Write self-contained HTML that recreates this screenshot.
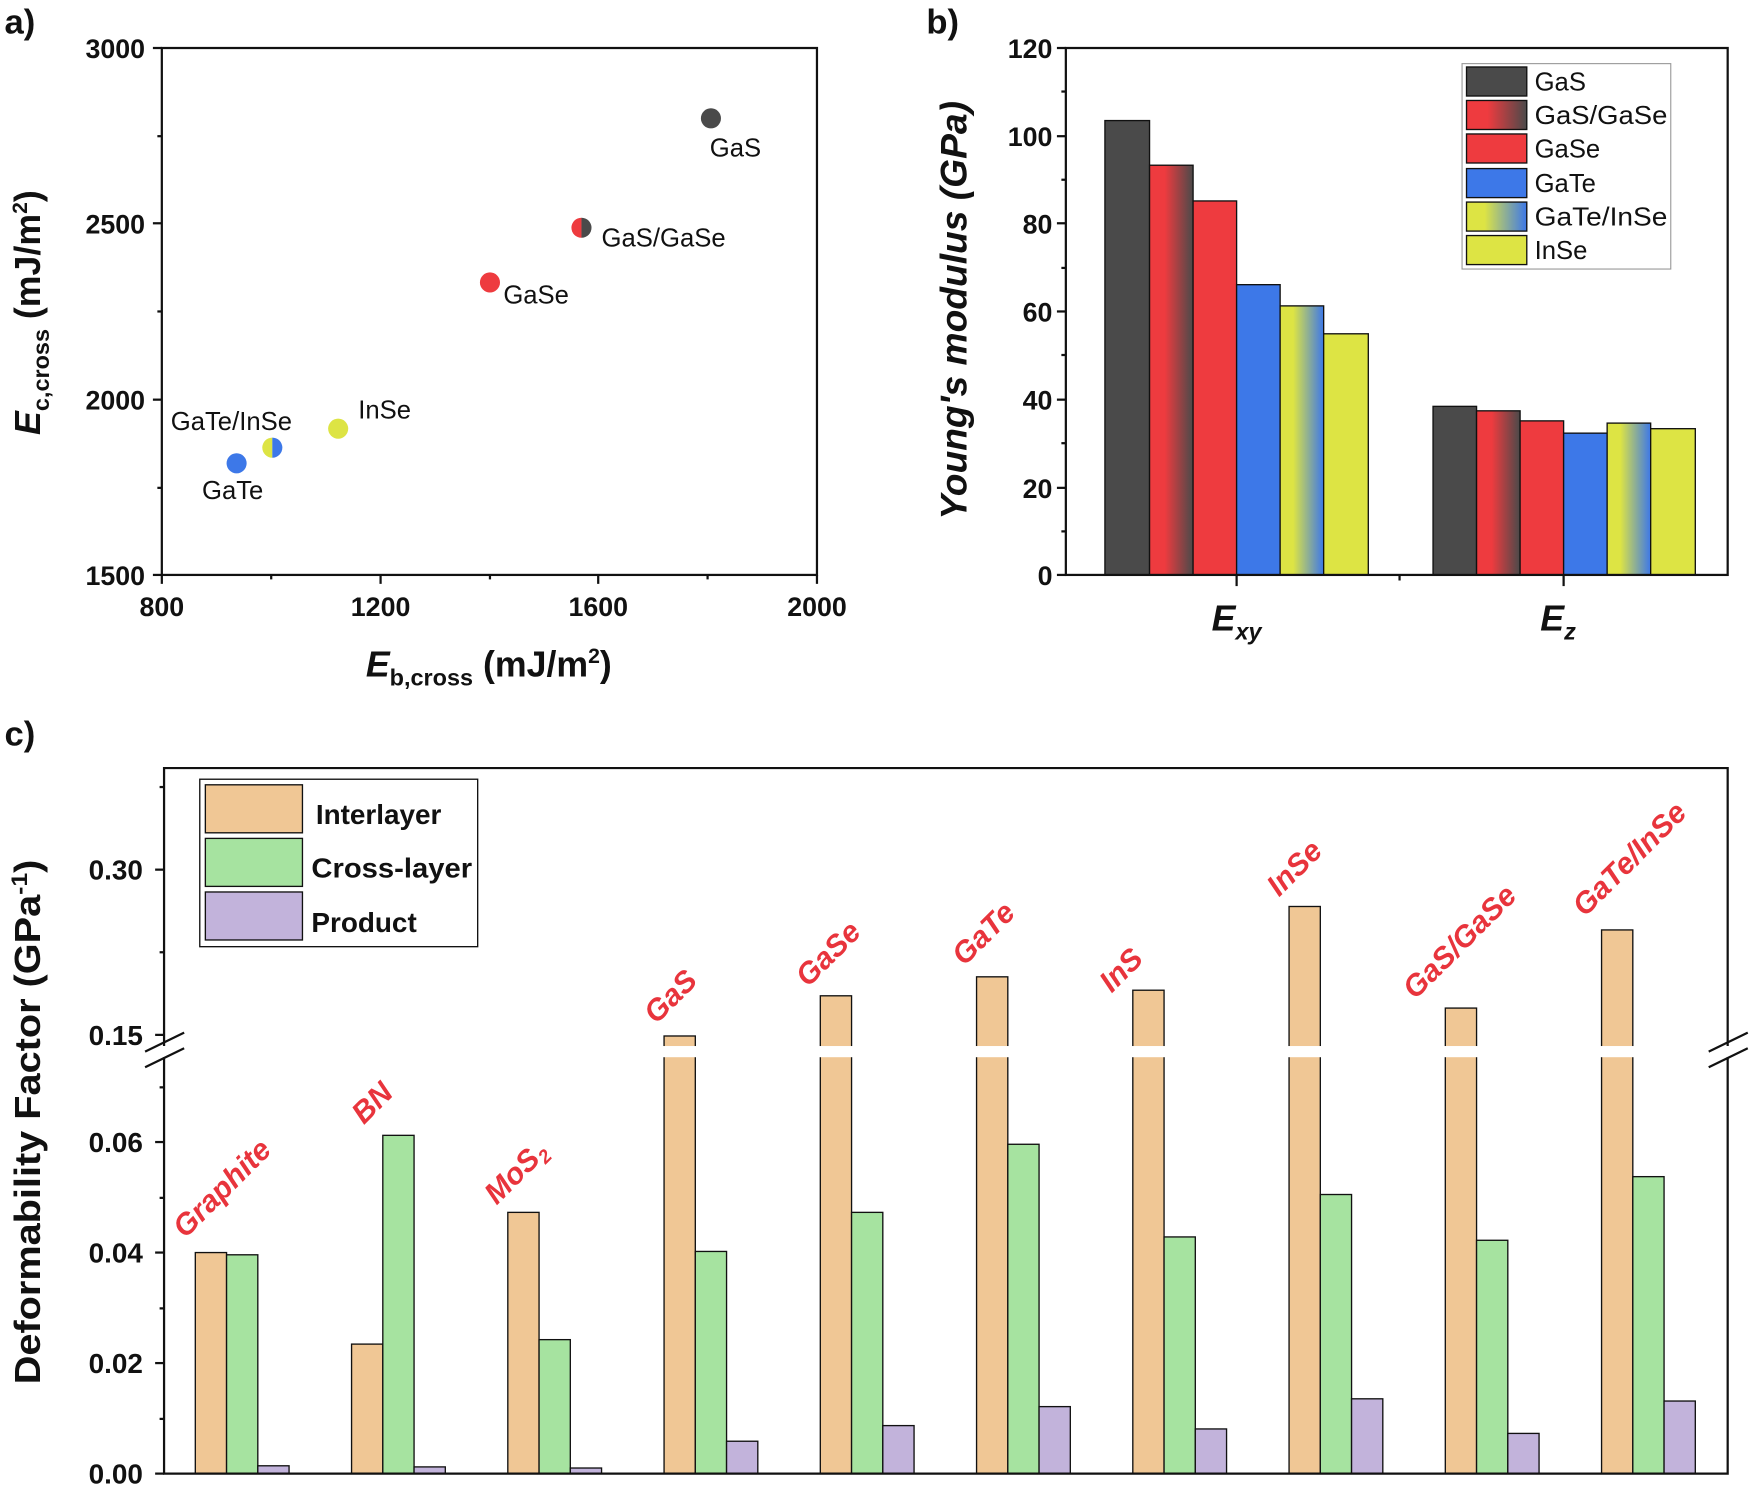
<!DOCTYPE html>
<html><head><meta charset="utf-8"><style>html,body{margin:0;padding:0;background:#fff}svg{display:block}</style></head><body>
<svg width="1750" height="1487" viewBox="0 0 1568 1332" preserveAspectRatio="none" xmlns="http://www.w3.org/2000/svg" font-family="Liberation Sans, Arial, sans-serif">
<defs>
<linearGradient id="gsg" x1="0" x2="1" y1="0" y2="0"><stop offset="0" stop-color="#ee3b3f"/><stop offset="0.35" stop-color="#ee3b3f"/><stop offset="1" stop-color="#4a4a4a"/></linearGradient>
<linearGradient id="gti" x1="0" x2="1" y1="0" y2="0"><stop offset="0" stop-color="#dde444"/><stop offset="0.3" stop-color="#dde444"/><stop offset="1" stop-color="#3d78e8"/></linearGradient>
</defs>
<rect width="1568" height="1332" fill="#fff"/>
<g font-weight="bold" font-size="31" fill="#111">
<text x="4" y="30">a)</text><text x="830" y="30">b)</text><text x="4" y="668">c)</text></g>

<!-- Panel a -->
<g stroke="#111" stroke-width="2" fill="none">
<rect x="145" y="43" width="587" height="472"/>
<line x1="137" y1="43" x2="145" y2="43"/><line x1="137" y1="200" x2="145" y2="200"/><line x1="137" y1="358" x2="145" y2="358"/><line x1="137" y1="515" x2="145" y2="515"/>
<line x1="141" y1="122" x2="145" y2="122"/><line x1="141" y1="279" x2="145" y2="279"/><line x1="141" y1="437" x2="145" y2="437"/>
<line x1="145" y1="515" x2="145" y2="523"/><line x1="341" y1="515" x2="341" y2="523"/><line x1="536" y1="515" x2="536" y2="523"/><line x1="732" y1="515" x2="732" y2="523"/>
<line x1="243" y1="515" x2="243" y2="519"/><line x1="439" y1="515" x2="439" y2="519"/><line x1="634" y1="515" x2="634" y2="519"/>
</g>
<g font-weight="bold" font-size="24" fill="#111" text-anchor="end">
<text x="130" y="52">3000</text><text x="130" y="209">2500</text><text x="130" y="367">2000</text><text x="130" y="524">1500</text></g>
<g font-weight="bold" font-size="24" fill="#111" text-anchor="middle">
<text x="145" y="552">800</text><text x="341" y="552">1200</text><text x="536" y="552">1600</text><text x="732" y="552">2000</text></g>
<text x="438" y="606" text-anchor="middle" font-weight="bold" font-size="32" fill="#111"><tspan font-style="italic">E</tspan><tspan font-size="21" dy="8">b,cross</tspan><tspan dy="-8"> (mJ/m</tspan><tspan font-size="19" dy="-12">2</tspan><tspan dy="12">)</tspan></text>
<text transform="translate(36,280) rotate(-90)" text-anchor="middle" font-weight="bold" font-size="32" fill="#111"><tspan font-style="italic">E</tspan><tspan font-size="21" dy="8">c,cross</tspan><tspan dy="-8"> (mJ/m</tspan><tspan font-size="19" dy="-12">2</tspan><tspan dy="12">)</tspan></text>
<circle cx="637" cy="106" r="9" fill="#4a4a4a"/>
<path d="M521,195 A9,9 0 0,0 521,213 Z" fill="#ee3b3f"/><path d="M521,195 A9,9 0 0,1 521,213 Z" fill="#4a4a4a"/>
<circle cx="439" cy="253" r="9" fill="#ee3b3f"/>
<circle cx="303" cy="384" r="9" fill="#dde444"/>
<path d="M244,392 A9,9 0 0,0 244,410 Z" fill="#dde444"/><path d="M244,392 A9,9 0 0,1 244,410 Z" fill="#3d78e8"/>
<circle cx="212" cy="415" r="9" fill="#3d78e8"/>
<g font-size="23" fill="#111">
<text x="636" y="140">GaS</text><text x="539" y="221">GaS/GaSe</text><text x="451" y="272">GaSe</text>
<text x="321" y="375">InSe</text><text x="153" y="385">GaTe/InSe</text><text x="181" y="447">GaTe</text></g>

<!-- Panel b -->
<g stroke="#111" stroke-width="1.2">
<rect x="990" y="108" width="40" height="407" fill="#4a4a4a"/>
<rect x="1030" y="148" width="39" height="367" fill="url(#gsg)"/>
<rect x="1069" y="180" width="39" height="335" fill="#ee3b3f"/>
<rect x="1108" y="255" width="39" height="260" fill="#3d78e8"/>
<rect x="1147" y="274" width="39" height="241" fill="url(#gti)"/>
<rect x="1186" y="299" width="40" height="216" fill="#dde444"/>
<rect x="1284" y="364" width="39" height="151" fill="#4a4a4a"/>
<rect x="1323" y="368" width="39" height="147" fill="url(#gsg)"/>
<rect x="1362" y="377" width="39" height="138" fill="#ee3b3f"/>
<rect x="1401" y="388" width="39" height="127" fill="#3d78e8"/>
<rect x="1440" y="379" width="39" height="136" fill="url(#gti)"/>
<rect x="1479" y="384" width="40" height="131" fill="#dde444"/>
</g>
<g stroke="#111" stroke-width="2" fill="none">
<rect x="955" y="43" width="593" height="472"/>
<line x1="947" y1="43" x2="955" y2="43"/><line x1="947" y1="122" x2="955" y2="122"/><line x1="947" y1="200" x2="955" y2="200"/><line x1="947" y1="279" x2="955" y2="279"/><line x1="947" y1="358" x2="955" y2="358"/><line x1="947" y1="437" x2="955" y2="437"/><line x1="947" y1="515" x2="955" y2="515"/>
<line x1="951" y1="82" x2="955" y2="82"/><line x1="951" y1="161" x2="955" y2="161"/><line x1="951" y1="240" x2="955" y2="240"/><line x1="951" y1="318" x2="955" y2="318"/><line x1="951" y1="397" x2="955" y2="397"/><line x1="951" y1="476" x2="955" y2="476"/>
<line x1="1108" y1="515" x2="1108" y2="525"/><line x1="1401" y1="515" x2="1401" y2="525"/><line x1="1254" y1="515" x2="1254" y2="520"/>
</g>
<g font-weight="bold" font-size="24" fill="#111" text-anchor="end">
<text x="943" y="52">120</text><text x="943" y="131">100</text><text x="943" y="209">80</text><text x="943" y="288">60</text><text x="943" y="367">40</text><text x="943" y="446">20</text><text x="943" y="524">0</text></g>
<text x="1108" y="565" text-anchor="middle" font-weight="bold" font-style="italic" font-size="32" fill="#111">E<tspan font-size="21" dy="8">xy</tspan></text>
<text x="1396" y="565" text-anchor="middle" font-weight="bold" font-style="italic" font-size="32" fill="#111">E<tspan font-size="21" dy="8">z</tspan></text>
<text transform="translate(866,278) rotate(-90)" text-anchor="middle" font-weight="bold" font-style="italic" font-size="33" fill="#111" textLength="375" lengthAdjust="spacingAndGlyphs">Young's modulus (GPa)</text>
<rect x="1310" y="57" width="187" height="184" fill="#fff" stroke="#999" stroke-width="1"/>
<g stroke="#111" stroke-width="1.2">
<rect x="1314" y="60" width="54" height="26" fill="#4a4a4a"/>
<rect x="1314" y="90" width="54" height="26" fill="url(#gsg)"/>
<rect x="1314" y="120" width="54" height="26" fill="#ee3b3f"/>
<rect x="1314" y="151" width="54" height="26" fill="#3d78e8"/>
<rect x="1314" y="181" width="54" height="26" fill="url(#gti)"/>
<rect x="1314" y="211" width="54" height="26" fill="#dde444"/>
</g>
<g font-size="23" fill="#111">
<text x="1375" y="81">GaS</text><text x="1375" y="111" textLength="119" lengthAdjust="spacingAndGlyphs">GaS/GaSe</text><text x="1375" y="141">GaSe</text><text x="1375" y="172">GaTe</text><text x="1375" y="202" textLength="119" lengthAdjust="spacingAndGlyphs">GaTe/InSe</text><text x="1375" y="232">InSe</text></g>

<!-- Panel c -->
<g stroke="#111" stroke-width="1.2">
<rect x="175" y="1122" width="28" height="198" fill="#f0c795"/><rect x="203" y="1124" width="28" height="196" fill="#a6e3a0"/><rect x="231" y="1313" width="28" height="7" fill="#c2b3db"/>
<rect x="315" y="1204" width="28" height="116" fill="#f0c795"/><rect x="343" y="1017" width="28" height="303" fill="#a6e3a0"/><rect x="371" y="1314" width="28" height="6" fill="#c2b3db"/>
<rect x="455" y="1086" width="28" height="234" fill="#f0c795"/><rect x="483" y="1200" width="28" height="120" fill="#a6e3a0"/><rect x="511" y="1315" width="28" height="5" fill="#c2b3db"/>
<rect x="595" y="928" width="28" height="392" fill="#f0c795"/><rect x="623" y="1121" width="28" height="199" fill="#a6e3a0"/><rect x="651" y="1291" width="28" height="29" fill="#c2b3db"/>
<rect x="735" y="892" width="28" height="428" fill="#f0c795"/><rect x="763" y="1086" width="28" height="234" fill="#a6e3a0"/><rect x="791" y="1277" width="28" height="43" fill="#c2b3db"/>
<rect x="875" y="875" width="28" height="445" fill="#f0c795"/><rect x="903" y="1025" width="28" height="295" fill="#a6e3a0"/><rect x="931" y="1260" width="28" height="60" fill="#c2b3db"/>
<rect x="1015" y="887" width="28" height="433" fill="#f0c795"/><rect x="1043" y="1108" width="28" height="212" fill="#a6e3a0"/><rect x="1071" y="1280" width="28" height="40" fill="#c2b3db"/>
<rect x="1155" y="812" width="28" height="508" fill="#f0c795"/><rect x="1183" y="1070" width="28" height="250" fill="#a6e3a0"/><rect x="1211" y="1253" width="28" height="67" fill="#c2b3db"/>
<rect x="1295" y="903" width="28" height="417" fill="#f0c795"/><rect x="1323" y="1111" width="28" height="209" fill="#a6e3a0"/><rect x="1351" y="1284" width="28" height="36" fill="#c2b3db"/>
<rect x="1435" y="833" width="28" height="487" fill="#f0c795"/><rect x="1463" y="1054" width="28" height="266" fill="#a6e3a0"/><rect x="1491" y="1255" width="28" height="65" fill="#c2b3db"/>
</g>
<rect x="148" y="937" width="1399" height="10" fill="#fff"/>
<g stroke="#111" stroke-width="2" fill="none">
<polyline points="147,937 147,688 1548,688 1548,937"/>
<polyline points="147,947 147,1320 1548,1320 1548,947"/>
<line x1="139" y1="779" x2="147" y2="779"/><line x1="139" y1="927" x2="147" y2="927"/>
<line x1="143" y1="705" x2="147" y2="705"/><line x1="143" y1="853" x2="147" y2="853"/>
<line x1="139" y1="1023" x2="147" y2="1023"/><line x1="139" y1="1122" x2="147" y2="1122"/><line x1="139" y1="1221" x2="147" y2="1221"/><line x1="139" y1="1320" x2="147" y2="1320"/>
<line x1="143" y1="974" x2="147" y2="974"/><line x1="143" y1="1073" x2="147" y2="1073"/><line x1="143" y1="1172" x2="147" y2="1172"/><line x1="143" y1="1271" x2="147" y2="1271"/>
<line x1="130" y1="942" x2="165" y2="925"/><line x1="130" y1="956" x2="165" y2="939"/>
<line x1="1531" y1="942" x2="1566" y2="925"/><line x1="1531" y1="956" x2="1566" y2="939"/>
</g>
<g font-weight="bold" font-size="25" fill="#111" text-anchor="end">
<text x="128" y="788">0.30</text><text x="128" y="936">0.15</text><text x="128" y="1032">0.06</text><text x="128" y="1131">0.04</text><text x="128" y="1230">0.02</text><text x="128" y="1329">0.00</text></g>
<text transform="translate(36,1005) rotate(-90)" text-anchor="middle" font-weight="bold" font-size="32" fill="#111" textLength="470" lengthAdjust="spacingAndGlyphs">Deformability Factor (GPa<tspan font-size="20" dy="-12">-1</tspan><tspan dy="12">)</tspan></text>
<rect x="179" y="698" width="249" height="150" fill="#fff" stroke="#111" stroke-width="1.2"/>
<g stroke="#111" stroke-width="1.2">
<rect x="184" y="703" width="87" height="43" fill="#f0c795"/>
<rect x="184" y="751" width="87" height="43" fill="#a6e3a0"/>
<rect x="184" y="799" width="87" height="43" fill="#c2b3db"/></g>
<g font-weight="bold" font-size="25" fill="#111">
<text x="283" y="738">Interlayer</text><text x="279" y="786" textLength="144" lengthAdjust="spacingAndGlyphs">Cross-layer</text><text x="279" y="835">Product</text></g>
<g font-weight="bold" font-style="italic" font-size="27" fill="#e8343c">
<text transform="translate(166,1110) rotate(-45)">Graphite</text>
<text transform="translate(326,1008) rotate(-45)">BN</text>
<text transform="translate(445,1080) rotate(-45)">MoS<tspan font-size="17" dy="5">2</tspan></text>
<text transform="translate(588,918) rotate(-45)">GaS</text>
<text transform="translate(724,885) rotate(-45)">GaSe</text>
<text transform="translate(864,866) rotate(-45)">GaTe</text>
<text transform="translate(996,890) rotate(-45)">InS</text>
<text transform="translate(1146,804) rotate(-45)">InSe</text>
<text transform="translate(1268,896) rotate(-45)">GaS/GaSe</text>
<text transform="translate(1420,822) rotate(-45)">GaTe/InSe</text>
</g>
</svg>
</body></html>
